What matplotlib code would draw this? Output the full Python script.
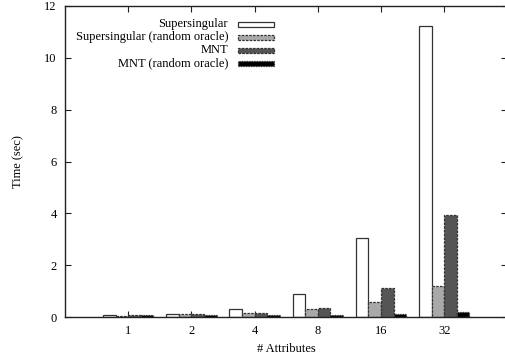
import matplotlib
matplotlib.use("Agg")
import matplotlib.pyplot as plt
from matplotlib.patches import Rectangle
import numpy as np

categories = ["1", "2", "4", "8", "16", "32"]
series_names = ["Supersingular", "Supersingular (random oracle)", "MNT", "MNT (random oracle)"]
supersingular = [0.07, 0.12, 0.30, 0.90, 3.05, 11.22]
supersingular_ro = [0.05, 0.10, 0.16, 0.31, 0.59, 1.20]
mnt = [0.09, 0.13, 0.17, 0.36, 1.12, 3.95]
mnt_ro = [0.08, 0.08, 0.08, 0.09, 0.12, 0.21]
y_ticks = [0, 2, 4, 6, 8, 10, 12]

plt.rcParams['font.family'] = ['Liberation Serif', 'DejaVu Serif']

fig = plt.figure(figsize=(5.05, 3.6), dpi=100)
ax = fig.add_axes([65/505, 1-317/360, 442.4/505, 311/360])

series = [supersingular, supersingular_ro, mnt, mnt_ro]
faces = ["white", "#a9a9a9", "#555555", "black"]
edges = ["#333333", "#333333", "#333333", "#333333"]
styles = ["solid", (0, (2, 1)), (0, (2, 1)), (0, (1, 1))]
x = np.arange(len(categories))
w = 0.2
for k, vals in enumerate(series):
    ax.bar(x + (k - 1.5) * w, vals, width=w, color=faces[k], edgecolor=edges[k],
           linewidth=0.9, linestyle=styles[k], zorder=2)

ax.set_xlim(-1, 6)
ax.set_ylim(0, 12)
ax.set_xticks(x)
ax.set_xticklabels(categories, fontsize=9)
ax.set_yticks(y_ticks)
ax.set_yticklabels([str(t) for t in y_ticks], fontsize=9)
ax.tick_params(direction="in", length=4, width=0.8, top=True, right=True, color="#222222")
ax.tick_params(axis='x', pad=6)
ax.tick_params(axis='y', pad=6)
for s in ax.spines.values():
    s.set_linewidth(1.0)
    s.set_color("#222222")
ax.set_xlabel("# Attributes", fontsize=9, labelpad=4)
ax.set_ylabel("Time (sec)", fontsize=9, labelpad=14)

# legend drawn manually (gnuplot style: right-aligned text, swatch on the right)
text_x = 228
sw_x0, sw_x1 = 238, 274
rows_y = [24, 37, 50, 63]
for k, name in enumerate(series_names):
    yc = rows_y[k]
    fig.text(text_x/505, 1-yc/360, name, ha="right", va="center", fontsize=9)
    r = Rectangle((sw_x0/505, 1-(yc+2.5)/360), (sw_x1-sw_x0)/505, 5/360,
                  transform=fig.transFigure, facecolor=faces[k], edgecolor=edges[k],
                  linewidth=0.9, linestyle=styles[k])
    fig.patches.append(r)

fig.savefig("out.png", dpi=100)
